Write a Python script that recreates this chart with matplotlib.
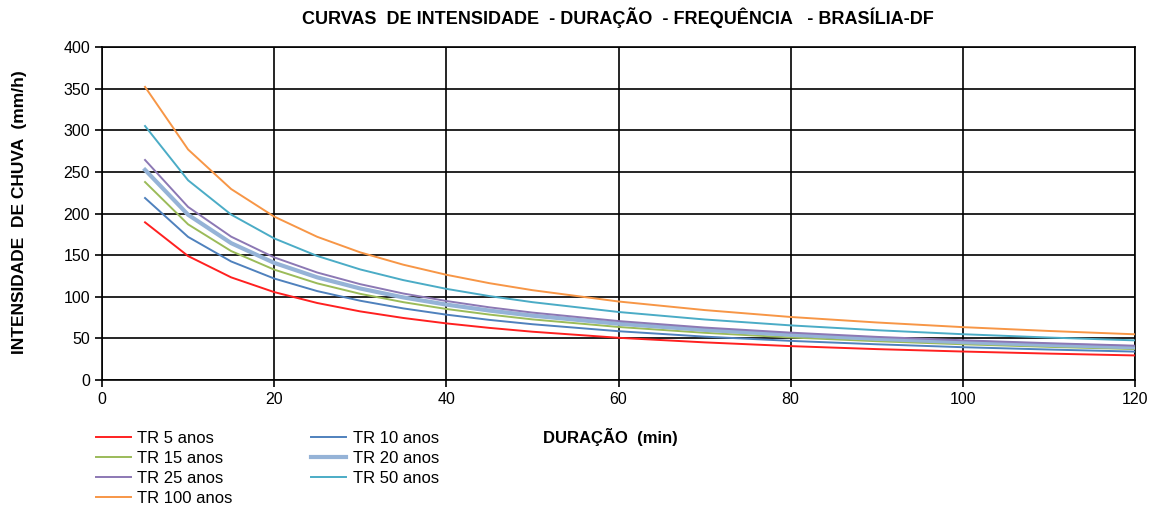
import matplotlib.pyplot as plt

plt.rcParams['font.family'] = ['Liberation Sans', 'DejaVu Sans']

# duracao (min)
duracao = [5, 10, 15, 20, 25, 30, 35, 40, 45, 50, 60, 70, 80, 90, 100, 110, 120]

# intensidade (mm/h)
tr5 = [189.4, 148.9, 123.3, 105.6, 92.5, 82.4, 74.5, 68.0, 62.6, 58.0, 50.7, 45.2, 40.7, 37.1, 34.2, 31.7, 29.5]
tr10 = [218.6, 171.9, 142.4, 121.9, 106.8, 95.2, 86.0, 78.5, 72.2, 67.0, 58.6, 52.1, 47.0, 42.9, 39.4, 36.6, 34.1]
tr15 = [237.8, 187.0, 154.9, 132.6, 116.1, 103.5, 93.5, 85.3, 78.6, 72.8, 63.7, 56.7, 51.1, 46.6, 42.9, 39.8, 37.1]
tr20 = [252.4, 198.5, 164.4, 140.7, 123.3, 109.9, 99.2, 90.6, 83.4, 77.3, 67.6, 60.2, 54.3, 49.5, 45.5, 42.2, 39.3]
tr25 = [264.3, 207.9, 172.2, 147.3, 129.1, 115.1, 103.9, 94.9, 87.3, 81.0, 70.8, 63.0, 56.9, 51.8, 47.7, 44.2, 41.2]
tr50 = [305.1, 239.9, 198.7, 170.1, 149.0, 132.8, 120.0, 109.5, 100.8, 93.5, 81.7, 72.7, 65.6, 59.8, 55.0, 51.0, 47.6]
tr100 = [352.1, 276.9, 229.4, 196.3, 172.0, 153.3, 138.5, 126.4, 116.3, 107.9, 94.3, 84.0, 75.7, 69.1, 63.5, 58.9, 54.9]

series = [
    ('TR 5 anos', tr5, '#ff2020', 1.4),
    ('TR 10 anos', tr10, '#4f81bd', 1.4),
    ('TR 15 anos', tr15, '#9bbb59', 1.4),
    ('TR 20 anos', tr20, '#95b3d7', 3.0),
    ('TR 25 anos', tr25, '#8c78b4', 1.4),
    ('TR 50 anos', tr50, '#4bacc6', 1.4),
    ('TR 100 anos', tr100, '#f79646', 1.4),
]

fig = plt.figure(figsize=(11.6, 5.08), dpi=100)
ax = fig.add_axes([102 / 1160, 1 - 380 / 508, (1135 - 102) / 1160, (380 - 47) / 508])

handles = {}
for label, vals, color, lw in series:
    h, = ax.plot(duracao, vals, color=color, lw=lw, label=label, zorder=3)
    handles[label] = h

ax.set_xlim(0, 120)
ax.set_ylim(0, 400)
ax.set_xticks(range(0, 121, 20))
ax.set_yticks(range(0, 401, 50))
ax.grid(True, color='black', lw=1.2, zorder=1)
ax.set_axisbelow(True)
for s in ax.spines.values():
    s.set_linewidth(1.2)
ax.tick_params(direction='out', length=5, width=1.2, labelsize=11.5)

fig.text(618 / 1160, 1 - 18 / 508, 'CURVAS  DE INTENSIDADE  - DURAÇÃO  - FREQUÊNCIA   - BRASÍLIA-DF',
         ha='center', va='center', fontsize=13, fontweight='bold')
fig.text(20 / 1160, 1 - 212 / 508, 'INTENSIDADE  DE CHUVA  (mm/h)', rotation=90,
         ha='center', va='center', fontsize=12.5, fontweight='bold')
fig.text(610 / 1160, 1 - 437 / 508, 'DURAÇÃO  (min)', ha='center', va='center',
         fontsize=12, fontweight='bold')

order = ['TR 5 anos', 'TR 15 anos', 'TR 25 anos', 'TR 100 anos',
         'TR 10 anos', 'TR 20 anos', 'TR 50 anos']
fig.legend([handles[k] for k in order], order, loc='upper left',
           bbox_to_anchor=(89 / 1160, 1 - 424 / 508), ncol=2, frameon=False,
           fontsize=12, handlelength=2.1, handletextpad=0.4, columnspacing=4.7,
           labelspacing=0.3, borderaxespad=0)

fig.savefig('out.png', dpi=100)
